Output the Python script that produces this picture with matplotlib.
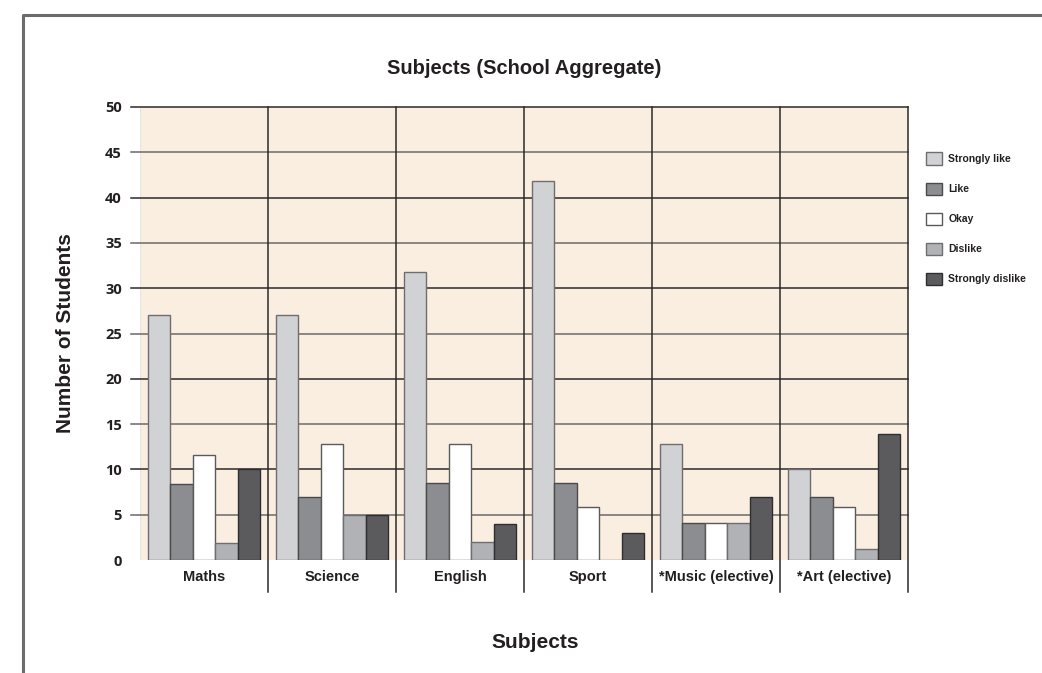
import matplotlib
matplotlib.use("Agg")
import matplotlib.pyplot as plt
import matplotlib.transforms as mtransforms
from matplotlib.lines import Line2D
import numpy as np

subjects = ["Maths", "Science", "English", "Sport", "*Music (elective)", "*Art (elective)"]
series_names = ["Strongly like", "Like", "Okay", "Dislike", "Strongly dislike"]
strongly_like = [27, 27, 31.8, 41.8, 12.8, 10]
like = [8.4, 7, 8.5, 8.5, 4.1, 7]
okay = [11.6, 12.8, 12.8, 5.8, 4.1, 5.8]
dislike = [1.9, 5, 2, 0, 4.1, 1.2]
strongly_dislike = [10, 5, 4, 3, 7, 13.9]
y_ticks = [0, 5, 10, 15, 20, 25, 30, 35, 40, 45, 50]

series = [strongly_like, like, okay, dislike, strongly_dislike]
colors = ["#D1D2D4", "#8C8D90", "#FFFFFF", "#B1B2B5", "#5B5B5D"]
edges = ["#6E6E70", "#4A4A4C", "#5A5A5C", "#6E6E70", "#2E2E30"]

plt.rcParams['font.family'] = ['Liberation Sans', 'DejaVu Sans']

W, H = 1042, 673
fig = plt.figure(figsize=(W / 100, H / 100), dpi=100)
ax = fig.add_axes([140 / W, 1 - 560 / H, (908 - 140) / W, (560 - 107) / H])
ax.set_facecolor("#FAEEE0")
for s in ax.spines.values():
    s.set_visible(False)

x = np.arange(len(subjects))
bw = 0.176
handles = []
for i, (vals, c, ec, name) in enumerate(zip(series, colors, edges, series_names)):
    b = ax.bar(x + (i - 2) * bw, vals, width=bw, color=c, edgecolor=ec,
               linewidth=1.0, label=name, zorder=3)
    handles.append(b)

ax.set_xlim(-0.5, len(subjects) - 0.5)
ax.set_ylim(0, 50)

# faint left edge of plot background
ax.add_line(Line2D([0, 0], [0, 1], transform=ax.transAxes, color="#E4E4E8",
                   linewidth=1.5, zorder=1))

# horizontal grid lines with outward ticks
trans_y = mtransforms.blended_transform_factory(ax.transAxes, ax.transData)
tick_ext = 9 / (908 - 140)
for v in y_ticks[1:]:
    col = "#2A2A2A" if v % 10 == 0 else "#6A6A6A"
    ax.add_line(Line2D([-tick_ext, 1], [v, v], transform=trans_y, color=col,
                       linewidth=1.1, clip_on=False, zorder=1))

# category separators
trans_x = mtransforms.blended_transform_factory(ax.transData, ax.transAxes)
ext = 32 / (560 - 107)
for k in range(1, len(subjects) + 1):
    ax.add_line(Line2D([k - 0.5, k - 0.5], [-ext, 1], transform=trans_x,
                       color="#2A2A2A", linewidth=1.1, clip_on=False, zorder=2))

ax.set_yticks(y_ticks)
ax.set_yticklabels([str(v) for v in y_ticks], fontsize=10.5, fontweight='bold',
                   color="#231F20", family=['Open Sans', 'DejaVu Sans'])
ax.tick_params(axis='y', length=0, pad=13)
ax.set_xticks(x)
ax.set_xticklabels(subjects, fontsize=10.5, fontweight='bold', color="#231F20")
ax.tick_params(axis='x', length=0, pad=7)

ax.set_ylabel("Number of Students", fontsize=15, fontweight='bold', color="#231F20", labelpad=22)
fig.text(535 / W, 1 - 642 / H, "Subjects", fontsize=15, fontweight='bold',
         color="#231F20", ha='center', va='center')
fig.text(524 / W, 1 - 68 / H, "Subjects (School Aggregate)", fontsize=14.5,
         fontweight='bold', color="#231F20", ha='center', va='center')

leg = ax.legend(handles=handles, loc='upper left',
                bbox_to_anchor=(926 / W, 1 - 152.5 / H), bbox_transform=fig.transFigure,
                frameon=False, prop={'weight': 'bold', 'size': 7.5},
                handlelength=1.55, handleheight=1.45, labelspacing=1.7,
                handletextpad=0.6, borderpad=0, borderaxespad=0)
for t in leg.get_texts():
    t.set_color("#231F20")

# outer frame (top and left)
fig.add_artist(Line2D([23 / W, 23 / W, 1.0], [0.0, 1 - 14.5 / H, 1 - 14.5 / H],
                      transform=fig.transFigure, color="#6B6B6B", linewidth=2.2))

fig.savefig("out.png", dpi=100)
